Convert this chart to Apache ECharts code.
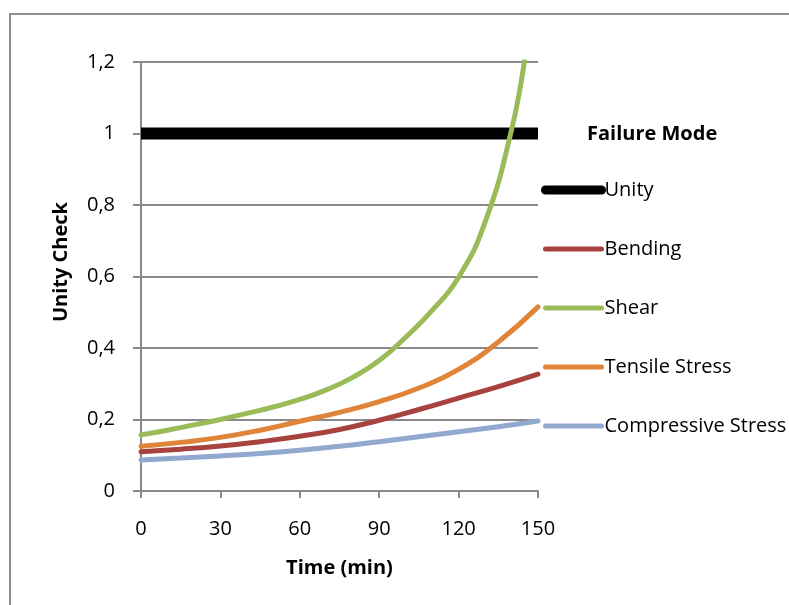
<!DOCTYPE html>
<html>
<head>
<meta charset="utf-8">
<script src="https://cdn.jsdelivr.net/npm/echarts@6/dist/echarts.min.js"></script>
<style>
  html, body { margin: 0; padding: 0; background: #fff; }
  #chart { width: 789px; height: 605px; }
</style>
</head>
<body>
<div id="chart"></div>
<script>
// time steps (min)
var timeSteps = [0, 15, 30, 45, 60, 75, 90, 105, 120, 135, 150];
var unityTime = [0, 150];
var unity = [1, 1];
var bending = [0.110, 0.117, 0.126, 0.138, 0.153, 0.172, 0.198, 0.228, 0.260, 0.292, 0.327];
var tensile = [0.125, 0.136, 0.150, 0.170, 0.195, 0.220, 0.250, 0.288, 0.340, 0.417, 0.515];
var compressive = [0.087, 0.092, 0.098, 0.105, 0.114, 0.125, 0.138, 0.152, 0.166, 0.180, 0.196];
// shear grows fast, so it is read at more points
var shearTime = [0, 10, 20, 30, 40, 50, 60, 70, 80, 90, 100, 110, 120, 130, 140, 145];
var shear = [0.157, 0.170, 0.185, 0.200, 0.217, 0.235, 0.256, 0.283, 0.318, 0.365, 0.430, 0.505, 0.598, 0.752, 1.010, 1.210];
var xTicks = [0, 150, 30];
var yTicks = [0, 1.2, 0.2];

function pairs(t, v) {
	var out = [];
	for (var i = 0; i < t.length; i++) out.push([t[i], v[i]]);
	return out;
}

var font = 'Open Sans';
var gray = '#8a8a8a';

var myChart = echarts.init(document.getElementById('chart'));

function lineSeries(name, t, v, color, width, cap) {
	return {
		name : name,
		type : 'line',
		smooth : 0.5,
		showSymbol : false,
		symbol : 'none',
		clip : true,
		silent : true,
		lineStyle : { color : color, width : width, cap : cap || 'round' },
		itemStyle : { color : color },
		data : pairs(t, v),
		z : name == 'Unity' ? 3 : 4
	};
}

var option = {
	animation : false,
	textStyle : { fontFamily : font },
	grid : { left : 141, right : 251, top : 62, bottom : 114 },
	title : {
		text : 'Failure Mode',
		left : 587,
		top : 124,
		padding : 0,
		textStyle : { fontFamily : font, fontWeight : 'bold', fontSize : 20, color : '#000' }
	},
	legend : {
		orient : 'vertical',
		left : 541,
		top : 180,
		padding : 0,
		itemWidth : 56,
		itemHeight : 20,
		itemGap : 39,
		itemStyle : { opacity : 0 },
		textStyle : { fontFamily : font, fontSize : 20, color : '#000', padding : [0, 0, 0, -2] },
		data : [
			{ name : 'Unity', lineStyle : { width : 9, cap : 'round' } },
			{ name : 'Bending', lineStyle : { width : 5, cap : 'round' } },
			{ name : 'Shear', lineStyle : { width : 5, cap : 'round' } },
			{ name : 'Tensile Stress', lineStyle : { width : 5, cap : 'round' } },
			{ name : 'Compressive Stress', lineStyle : { width : 5, cap : 'round' } }
		]
	},
	xAxis : {
		type : 'value',
		min : xTicks[0],
		max : xTicks[1],
		interval : xTicks[2],
		name : 'Time (min)',
		nameLocation : 'middle',
		nameGap : 67,
		nameTextStyle : { fontFamily : font, fontWeight : 'bold', fontSize : 20, color : '#000' },
		axisLine : { lineStyle : { color : gray, width : 2 } },
		axisTick : { show : true, inside : false, length : 7, lineStyle : { color : gray, width : 2 } },
		axisLabel : { fontFamily : font, fontSize : 20, color : '#000', margin : 28 },
		splitLine : { show : false }
	},
	yAxis : {
		type : 'value',
		min : yTicks[0],
		max : yTicks[1],
		interval : yTicks[2],
		axisLine : { show : true, lineStyle : { color : gray, width : 2 } },
		axisTick : { show : true, inside : false, length : 8, lineStyle : { color : gray, width : 2 } },
		axisLabel : {
			fontFamily : font, fontSize : 20, color : '#000', margin : 26,
			formatter : function(v) { return String(Math.round(v * 10) / 10).replace('.', ','); }
		},
		splitLine : { show : true, lineStyle : { color : gray, width : 2 } }
	},
	graphic : [
		{
			type : 'rect',
			shape : { x : 10, y : 14, width : 900, height : 800 },
			style : { fill : 'none', stroke : '#8e8e8e', lineWidth : 2 },
			silent : true,
			z : -10
		},
		{
			type : 'text',
			x : 61,
			y : 262,
			rotation : Math.PI / 2,
			style : {
				text : 'Unity Check',
				fontFamily : font,
				fontWeight : 'bold',
				fontSize : 20,
				fill : '#000',
				align : 'center',
				verticalAlign : 'middle'
			},
			silent : true
		}
	],
	series : [
		lineSeries('Unity', unityTime, unity, '#000000', 12, 'butt'),
		lineSeries('Bending', timeSteps, bending, '#A8423F', 5),
		lineSeries('Shear', shearTime, shear, '#9BBB59', 5),
		lineSeries('Tensile Stress', timeSteps, tensile, '#DF8438', 5),
		lineSeries('Compressive Stress', timeSteps, compressive, '#91A8CF', 5)
	]
};

myChart.setOption(option);
</script>
</body>
</html>
